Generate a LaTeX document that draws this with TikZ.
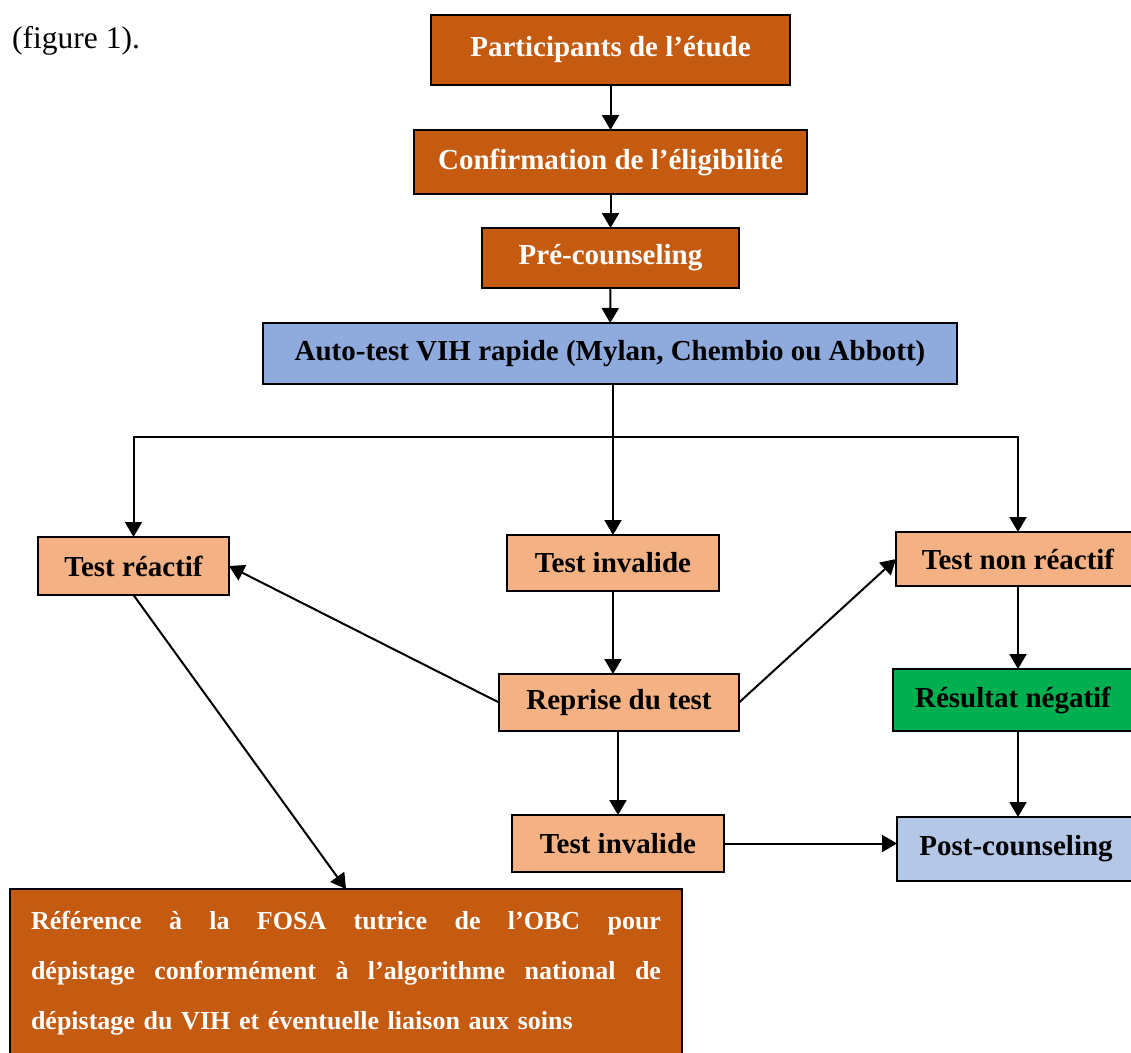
\documentclass[tikz,border=0pt]{standalone}
\usepackage{fontspec}
\setmainfont{Liberation Serif}
\usetikzlibrary{arrows.meta,positioning,calc}
\definecolor{brick}{HTML}{C55A11}
\definecolor{peach}{HTML}{F4B183}
\definecolor{steel}{HTML}{8FAADC}
\definecolor{pale}{HTML}{B4C7E7}
\definecolor{leaf}{HTML}{00B050}
\newcommand{\fullline}[1]{\leavevmode\hbox to 630pt{#1}}

\begin{document}
\begin{tikzpicture}[x=1pt, y=-1pt,
    box/.style={rectangle, draw=black, line width=2.6pt, inner sep=0pt, outer sep=0pt,
        font=\fontsize{29}{34}\selectfont\bfseries},
    dark/.style={box, fill=brick, text=white},
    light/.style={box, fill=peach},
    arr/.style={-{Triangle[length=15pt, width=17pt]}, line width=2pt, black}
]
    \useasboundingbox (0,0) rectangle (1131,1052);
    \node[anchor=base west, inner sep=0pt, font=\fontsize{31.5}{34}\selectfont] (cap) at (12,48) {(figure 1).};

    \node[dark, minimum width=359pt, minimum height=70pt] (part) at (610.5,50) {Participants de l’étude};
    \node[dark, minimum width=393pt, minimum height=64pt] (conf) at (610.5,162) {Confirmation de l’éligibilité};
    \node[dark, minimum width=257pt, minimum height=60pt] (pre) at (610.5,258) {Pré-counseling};
    \node[box, fill=steel, minimum width=694pt, minimum height=61pt] (auto) at (610,353.5) {Auto-test VIH rapide (Mylan, Chembio ou Abbott)};

    \node[light, minimum width=191pt, minimum height=58pt] (reac) at (133.5,566) {Test réactif};
    \node[light, minimum width=212pt, minimum height=56pt] (inv1) at (613,563) {Test invalide};
    \node[light, minimum width=244pt, minimum height=54pt] (nonr) at (1018,559) {Test non réactif};
    \node[light, minimum width=240pt, minimum height=57pt] (rep) at (619,702.5) {Reprise du test};
    \node[box, fill=leaf, minimum width=240pt, minimum height=62pt] (neg) at (1013,700) {Résultat négatif};
    \node[light, minimum width=212pt, minimum height=57pt] (inv2) at (618,843.5) {Test invalide};
    \node[box, fill=pale, minimum width=238pt, minimum height=64pt] (post) at (1016,849) {Post-counseling};

    \node[dark, minimum width=672pt, minimum height=169pt, text width=630pt, align=left,
        font=\fontsize{26}{50}\selectfont\bfseries] (ref) at (346,973.5)
        {\fullline{Référence\hfill à\hfill la\hfill FOSA\hfill tutrice\hfill de\hfill l’OBC\hfill pour}\\
         \fullline{dépistage\hfill conformément\hfill à\hfill l’algorithme\hfill national\hfill de}\\
         dépistage du VIH et éventuelle liaison aux soins};

    \coordinate (split) at ($(inv1.north |- 0,437)$);
    \draw[arr] (part) -- (conf);
    \draw[arr] (conf) -- (pre);
    \draw[arr] (pre) -- (auto);
    \draw[arr] (auto.south -| inv1.north) -- (inv1.north);
    \draw[arr] (split) -| (reac.north);
    \draw[arr] (split) -| (nonr.north);
    \draw[arr] (inv1.south) -- (inv1.south |- rep.north);
    \draw[arr] (rep.west) -- (reac.east);
    \draw[arr] (rep.east) -- (nonr.west);
    \draw[arr] (rep.south -| inv2.north) -- (inv2.north);
    \draw[arr] (nonr.south) -- (nonr.south |- neg.north);
    \draw[arr] (neg.south -| nonr.south) -- (nonr.south |- post.north);
    \draw[arr] (inv2.east) -- (inv2.east -| post.west);
    \draw[arr] (reac.south) -- (ref.north);
\end{tikzpicture}
\end{document}
